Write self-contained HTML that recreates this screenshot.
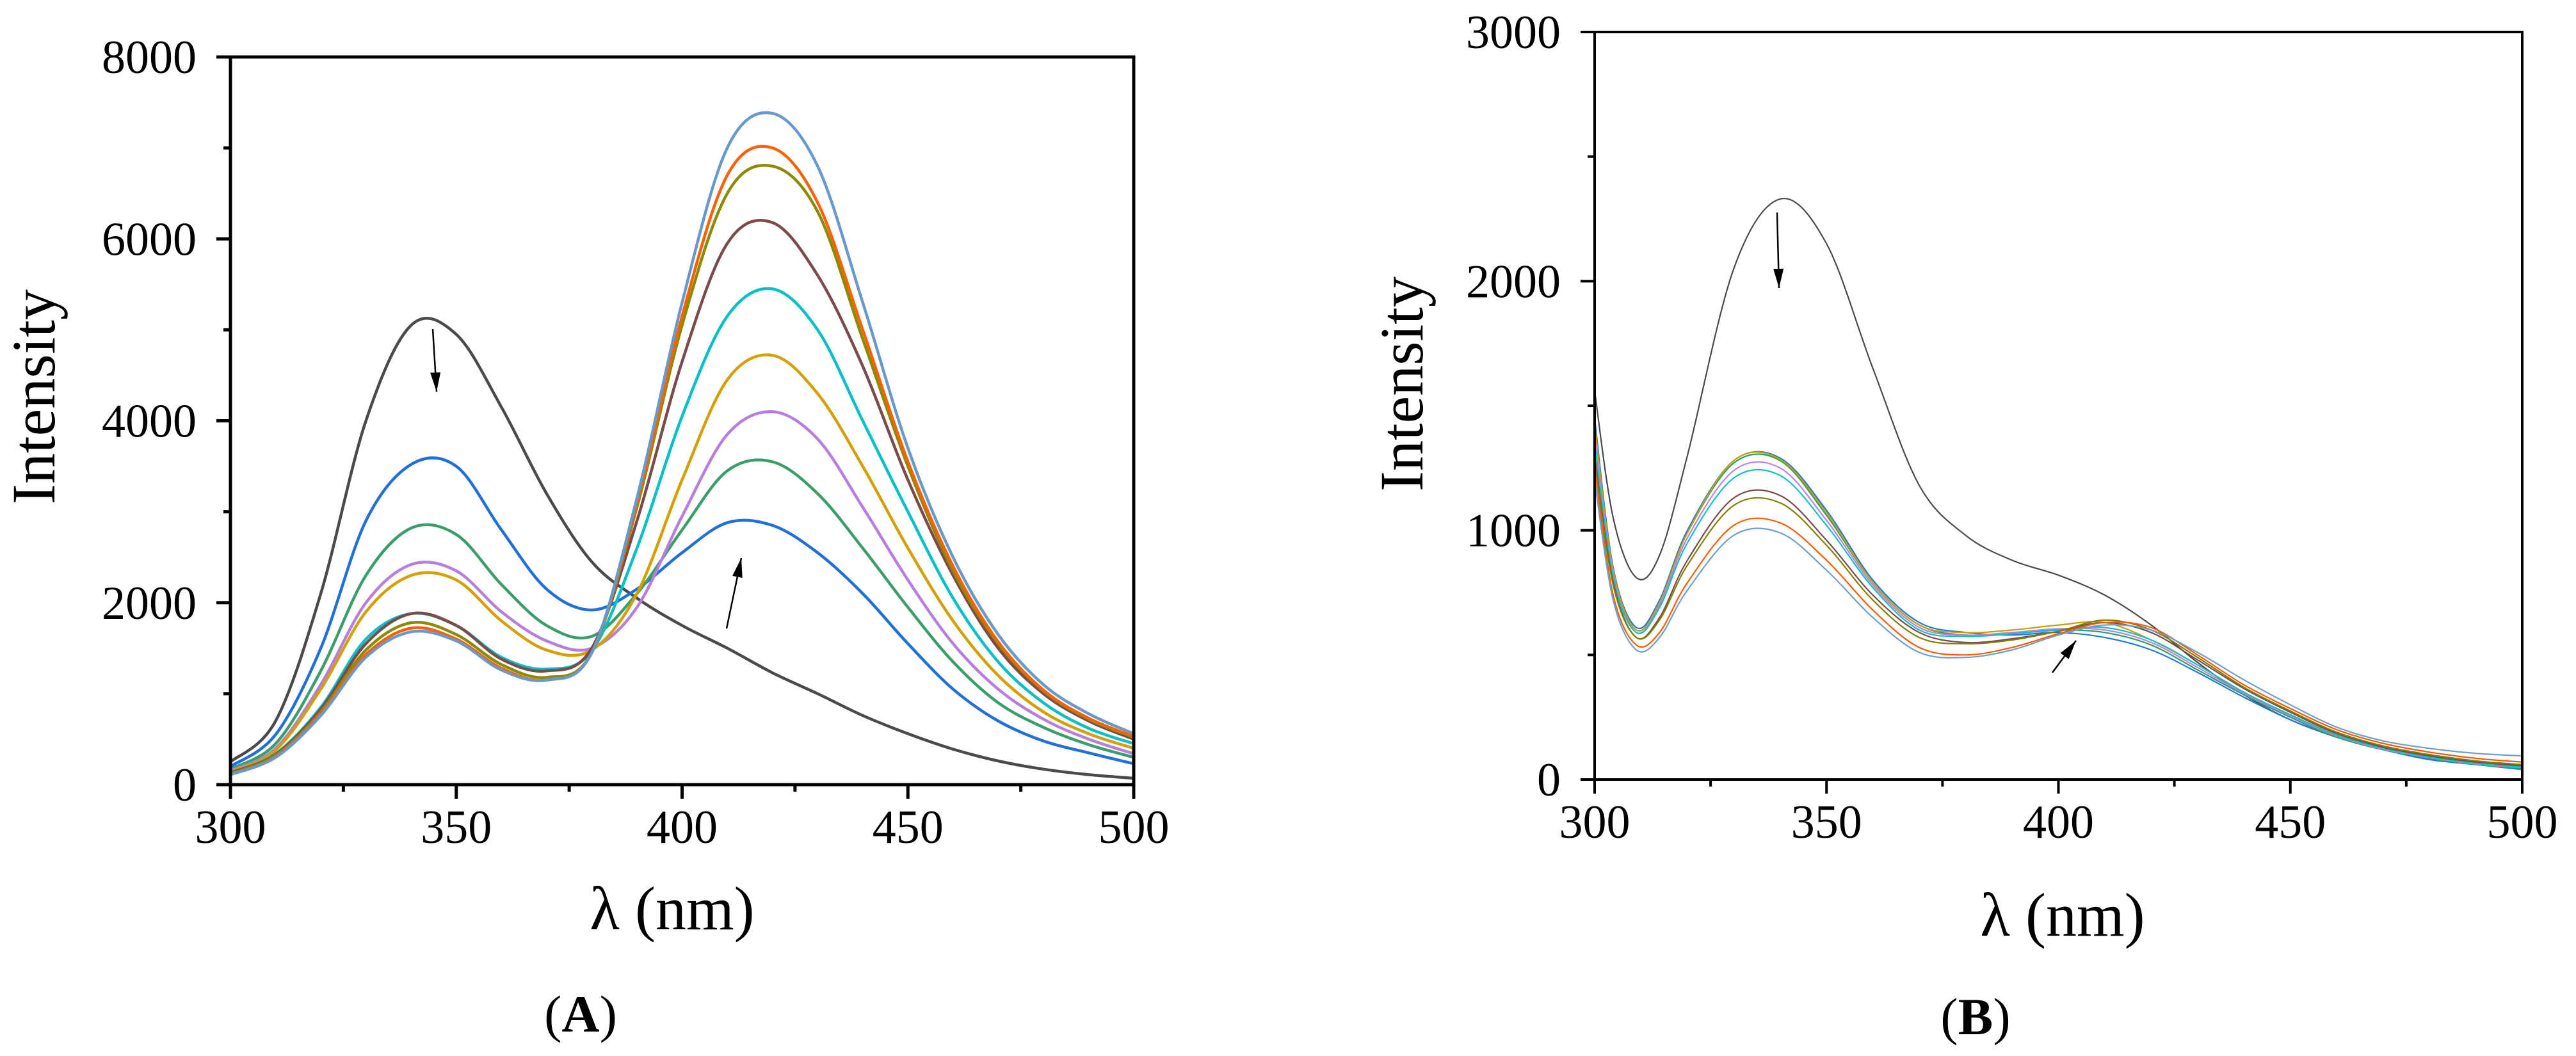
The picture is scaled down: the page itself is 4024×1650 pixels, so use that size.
<!DOCTYPE html>
<html><head><meta charset="utf-8"><style>
html,body{margin:0;padding:0;background:#fff;}
svg{display:block;font-family:"Liberation Serif","DejaVu Serif",serif;}
</style></head><body>
<svg id="fig" width="4024" height="1650" viewBox="0 0 4024 1650" xmlns="http://www.w3.org/2000/svg"></svg>
<script>
// ---------- Panel A data ----------
const xsA = [300,310,320,330,340,350,360,370,380,390,400,410,420,430,440,450,460,470,480,490,500];
const colorsA = ['#4a4a4a','#1f6fdc','#3a9e6a','#b77ee0','#d4a000','#00c0c8','#7b4a4a','#8b8b00','#ff6000','#6699cc'];
const a0 = [250,700,2100,4000,5050,4950,4150,3200,2450,2050,1750,1500,1230,1000,760,560,390,260,170,110,70];
const a1 = [200,550,1500,2900,3520,3500,2800,2150,1920,2150,2550,2880,2850,2550,2100,1550,1050,700,480,350,230];
const a2 = [170,450,1250,2300,2820,2750,2200,1750,1630,2100,2800,3450,3550,3200,2600,1950,1350,900,630,440,300];
const a3 = [150,400,1100,2000,2420,2350,1900,1580,1500,1950,2950,3850,4100,3800,3050,2250,1550,1050,720,500,340];
const a4 = [140,380,1050,1900,2300,2250,1800,1480,1480,2100,3350,4450,4720,4300,3500,2600,1800,1200,800,560,400];
const a5 = [130,340,850,1600,1880,1750,1400,1270,1470,2600,4050,5150,5450,5000,4000,3000,2050,1350,900,620,450];
const a6 = [130,330,830,1550,1880,1750,1380,1250,1500,2900,4650,5950,6180,5600,4600,3350,2300,1500,1000,700,500];
const a7 = [120,320,800,1480,1780,1650,1320,1180,1450,3050,5050,6500,6800,6300,4900,3500,2350,1550,1030,720,520];
const a8 = [110,310,780,1430,1720,1600,1280,1150,1450,3100,5150,6700,7000,6400,5000,3550,2400,1570,1040,730,530];
const a9 = [110,300,760,1400,1680,1580,1260,1150,1450,3150,5300,7000,7380,6800,5300,3700,2500,1650,1100,780,560];
const yTicksA = [0,2000,4000,6000,8000];
const xTicks = [300,350,400,450,500];
// ---------- Panel B data ----------
const xsB = [300,304,309,314,320,330,340,350,360,370,380,390,400,410,420,430,440,450,460,470,480,490,500];
const colorsB = ['#4a4a4a','#1f77e4','#2ca060','#c8a000','#c080e0','#10c0c8','#7b4a4a','#808000','#ff5a00','#6a9fd0'];
const b0 = [1560,1050,810,900,1300,2050,2330,2150,1650,1180,980,880,820,740,620,470,340,240,170,120,90,70,60];
const b1 = [1450,850,610,720,1000,1280,1290,1080,800,630,590,580,590,570,520,430,330,240,170,120,80,60,40];
const b2 = [1400,830,600,710,990,1270,1280,1060,790,620,580,590,600,590,540,440,340,250,170,120,85,60,45];
const b3 = [1420,840,600,710,990,1280,1285,1070,790,620,590,600,620,630,560,460,350,260,180,125,90,65,50];
const b4 = [1380,820,590,700,970,1240,1250,1040,780,610,580,590,605,600,550,450,345,255,175,122,88,62,48];
const b5 = [1350,810,590,690,950,1210,1220,1020,770,600,575,585,600,610,560,460,350,260,178,125,90,64,50];
const b6 = [1300,790,570,650,880,1130,1140,960,740,590,550,565,595,630,590,480,365,270,185,130,95,70,55];
const b7 = [1280,780,570,640,860,1100,1110,940,720,570,545,560,595,640,600,490,370,275,190,135,100,75,60];
const b8 = [1250,740,540,590,790,1020,1030,880,680,530,500,530,585,630,610,500,380,285,200,145,110,85,70];
const b9 = [1200,720,520,570,760,980,990,840,650,510,490,520,580,620,600,510,400,300,210,155,125,105,95];
const yTicksB = [0,1000,2000,3000];

const NS = 'http://www.w3.org/2000/svg';
const svg = document.getElementById('fig');
function mk(tag, attrs, parent){
  const e = document.createElementNS(NS, tag);
  for (const k in attrs) e.setAttribute(k, attrs[k]);
  (parent||svg).appendChild(e);
  return e;
}
function smoothPath(pts){
  let d = 'M'+pts[0][0].toFixed(1)+','+pts[0][1].toFixed(1);
  for (let i=0;i<pts.length-1;i++){
    const p0 = pts[i-1]||pts[i], p1=pts[i], p2=pts[i+1], p3=pts[i+2]||pts[i+1];
    const c1x=p1[0]+(p2[0]-p0[0])/6, c1y=p1[1]+(p2[1]-p0[1])/6;
    const c2x=p2[0]-(p3[0]-p1[0])/6, c2y=p2[1]-(p3[1]-p1[1])/6;
    d+=' C'+c1x.toFixed(1)+','+c1y.toFixed(1)+' '+c2x.toFixed(1)+','+c2y.toFixed(1)+' '+p2[0].toFixed(1)+','+p2[1].toFixed(1);
  }
  return d;
}
function panel(cfg){
  const g = mk('g', {});
  
  
  const X = v => cfg.L + (v-300)/200*(cfg.R-cfg.L);
  const Y = v => cfg.B - v/cfg.ymax*(cfg.B-cfg.T);
  // series
  cfg.series.forEach((s, i) => {
    const pts = cfg.xs.map((x, j) => [X(x), Y(s[j])]);
    const p = mk('path', {d: smoothPath(pts), fill:'none', stroke: cfg.colors[i], 'stroke-width': cfg.lw, 'stroke-linejoin':'round'}, g);
    
    
  });
  // frame
  const fr = mk('rect', {x:cfg.L, y:cfg.T, width:cfg.R-cfg.L, height:cfg.B-cfg.T, fill:'none', stroke:'#000', 'stroke-width':cfg.aw}, g);
  
  
  // x ticks
  for (let v=300; v<=500; v+=25){
    const major = (v%50===0);
    const t = mk('line', {x1:X(v), x2:X(v), y1:cfg.B, y2:cfg.B+(major?22:11), stroke:'#000', 'stroke-width':cfg.aw}, g);
    
    
  }
  xTicks.forEach(v => {
    const t = mk('text', {x:X(v), y:cfg.B+91, 'font-size':74, 'text-anchor':'middle'}, g);
    t.textContent = v;
    
    
  });
  // y ticks
  for (let v=0; v<=cfg.ymax; v+=cfg.ymin){
    const major = (v%cfg.ymaj===0);
    const t = mk('line', {x1:cfg.L, x2:cfg.L-(major?22:11), y1:Y(v), y2:Y(v), stroke:'#000', 'stroke-width':cfg.aw}, g);
    
    
  }
  cfg.yTicks.forEach(v => {
    const t = mk('text', {x:cfg.L-53, y:Y(v)+25, 'font-size':74, 'text-anchor':'end'}, g);
    t.textContent = v;
    
    
  });
  // axis titles
  const xt = mk('text', {x:cfg.xtx, y:cfg.xty, 'font-size':96, 'text-anchor':'middle'}, g);
  xt.textContent = 'λ (nm)';
  
  
  const yt = mk('text', {x:0, y:0, 'font-size':96, 'text-anchor':'middle', transform:'translate('+cfg.ytx+','+cfg.yty+') rotate(-90)'}, g);
  yt.textContent = 'Intensity';
  
  
  // panel label
  const pl = mk('text', {x:cfg.plx, y:cfg.ply, 'font-size':82, 'text-anchor':'middle'}, g);
  pl.textContent = '(';
  const bt = mk('tspan', {'font-weight':'bold'}, pl);
  bt.textContent = cfg.letter;
  const cl = mk('tspan', {}, pl);
  cl.textContent = ')';
  
  
  // arrows
  cfg.arrows.forEach(a => {
    const [x1,y1,x2,y2] = a;
    const ln = mk('line', {x1:x1, y1:y1, x2:x2, y2:y2, stroke:'#000', 'stroke-width':2.5}, g);
    
    
    const ang = Math.atan2(y2-y1, x2-x1), L=30, W=8;
    const bx = x2 - L*Math.cos(ang), by = y2 - L*Math.sin(ang);
    const px = -Math.sin(ang)*W, py = Math.cos(ang)*W;
    const hd = mk('polygon', {points: x2+','+y2+' '+(bx+px)+','+(by+py)+' '+(bx-px)+','+(by-py), fill:'#000'}, g);
    
    
  });
}
panel({name:'panel-a', letter:'A', L:360, R:1771, T:89, B:1226, ymax:8000, ymaj:2000, ymin:1000,
  xs:xsA, series:[a0,a1,a2,a3,a4,a5,a6,a7,a8,a9], colors:colorsA, lw:4.5, aw:5, yTicks:yTicksA,
  xtx:1050, xty:1452, ytx:85, yty:620, plx:907, ply:1612,
  arrows:[[676,514,682,612],[1135,982,1158,872]]});
panel({name:'panel-b', letter:'B', L:2491, R:3940, T:50, B:1218, ymax:3000, ymaj:1000, ymin:500,
  xs:xsB, series:[b0,b1,b2,b3,b4,b5,b6,b7,b8,b9], colors:colorsB, lw:2.2, aw:4, yTicks:yTicksB,
  xtx:3222, xty:1462, ytx:2222, yty:600, plx:3086, ply:1616,
  arrows:[[2776,332,2779,450],[3206,1051,3243,1001]]});
</script>
</body></html>
